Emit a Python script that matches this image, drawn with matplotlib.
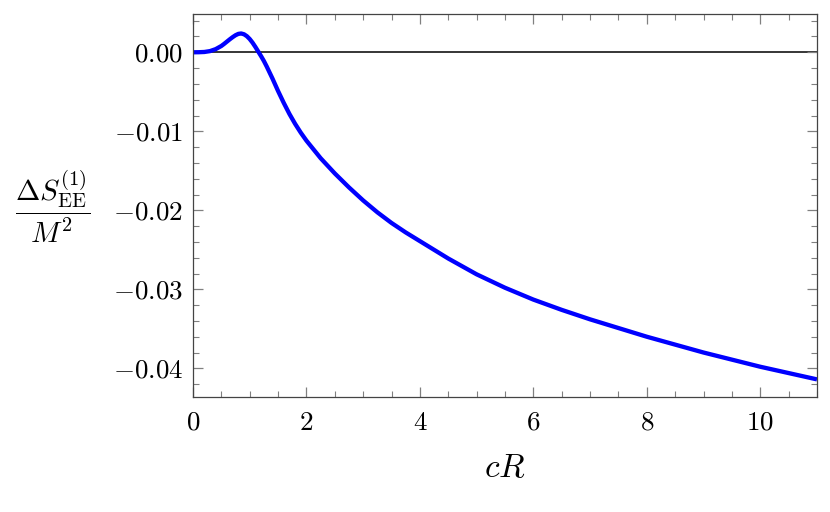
import numpy as np
import matplotlib
matplotlib.use('Agg')
import matplotlib.pyplot as plt
from matplotlib.ticker import MultipleLocator, FuncFormatter

plt.rcParams['mathtext.fontset'] = 'cm'
plt.rcParams['font.family'] = 'serif'
plt.rcParams['font.serif'] = ['cmr10', 'DejaVu Serif']
plt.rcParams['axes.formatter.use_mathtext'] = True

# values
cR = [0.0, 0.1, 0.2, 0.3, 0.4, 0.5, 0.55, 0.6, 0.65, 0.7, 0.75, 0.8, 0.85,
      0.9, 0.95, 1.0, 1.05, 1.1, 1.15, 1.2, 1.25, 1.3, 1.4, 1.5, 1.6, 1.7,
      1.8, 1.9, 2.0, 2.25, 2.5, 2.75, 3.0, 3.25, 3.5, 3.75, 4.0, 4.5, 5.0,
      5.5, 6.0, 6.5, 7.0, 7.5, 8.0, 8.5, 9.0, 9.5, 10.0, 10.5, 11.0]
dS = [0.0, 0.00001, 0.00004, 0.00015, 0.0004, 0.0008, 0.00107, 0.00136,
      0.00165, 0.00192, 0.00216, 0.00233, 0.00238, 0.00228, 0.00204,
      0.00168, 0.00122, 0.00068, 0.0001, -0.00048, -0.0011, -0.0018,
      -0.0033, -0.0049, -0.0064, -0.0078, -0.00905, -0.01017, -0.01118,
      -0.0134, -0.01533, -0.0171, -0.01875, -0.02025, -0.0216, -0.0228,
      -0.0239, -0.0261, -0.0281, -0.0298, -0.0313, -0.0326, -0.0338,
      -0.0349, -0.0360, -0.0370, -0.0380, -0.0389, -0.0398, -0.0406,
      -0.0414]

fig = plt.figure(figsize=(8.3, 5.12), dpi=100)
ax = fig.add_axes([0.2325, 0.2246, 0.7518, 0.7481])

ax.axhline(0, color='black', lw=1.1, zorder=1)
ax.plot(cR, dS, color=(0, 0, 1), lw=3.1, solid_capstyle='butt',
        solid_joinstyle='round', zorder=2)

ax.set_xlim(0, 11)
ax.set_ylim(-0.04363, 0.00485)

frame_col = '#444444'
for s in ax.spines.values():
    s.set_color(frame_col)
    s.set_linewidth(0.9)

ax.xaxis.set_major_locator(MultipleLocator(2))
ax.xaxis.set_minor_locator(MultipleLocator(0.5))
ax.yaxis.set_major_locator(MultipleLocator(0.01))
ax.yaxis.set_minor_locator(MultipleLocator(0.002))
ax.xaxis.set_major_formatter(FuncFormatter(lambda v, p: f'${v:.0f}$'))
ax.yaxis.set_major_formatter(FuncFormatter(lambda v, p: f'${v:.2f}$' if abs(v) > 1e-9 else '$0.00$'))

ax.tick_params(which='both', direction='in', top=True, right=True,
               color='#808080', labelsize=19.5, labelcolor='black')
ax.tick_params(which='major', length=7, width=0.9)
ax.tick_params(which='minor', length=4, width=0.8)
ax.tick_params(axis='x', which='major', pad=10)
ax.tick_params(axis='y', which='major', pad=7)

ax.set_xlabel(r'$cR$', fontsize=24, labelpad=14)
ax.set_ylabel(r'$\dfrac{\Delta S^{(1)}_{\rm EE}}{M^2}$', fontsize=21,
              rotation=0, va='center', ha='center')
ax.yaxis.set_label_coords(-0.224, 0.496)

fig.savefig('out.png', dpi=100)
